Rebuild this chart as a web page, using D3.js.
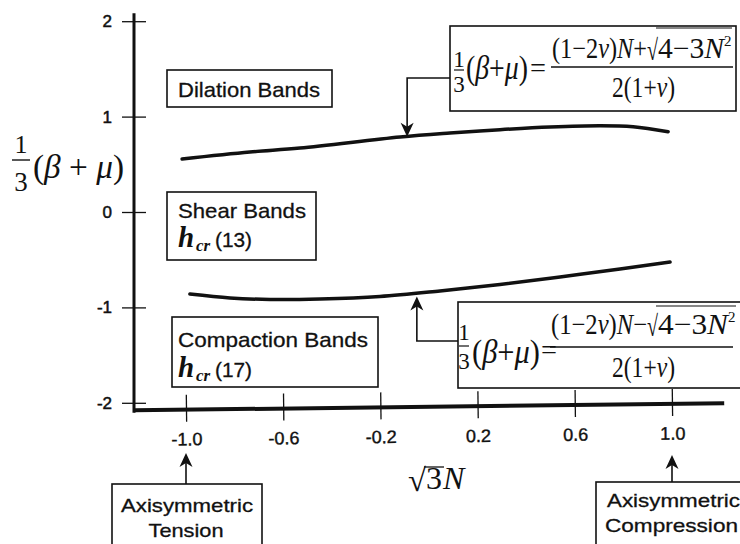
<!DOCTYPE html>
<html><head><meta charset="utf-8">
<script src="https://cdn.jsdelivr.net/npm/d3@7"></script>
<style>body{margin:0;background:#fff} svg{display:block}</style>
</head><body><svg id="c" width="740" height="544"></svg>
<script>
// ---- data ----
const xTicks = [-1.0, -0.6, -0.2, 0.2, 0.6, 1.0];
const xTickLabels = ["-1.0", "-0.6", "-0.2", "0.2", "0.6", "1.0"];
const yTicks = [2, 1, 0, -1, -2];
const yTickLabels = ["2", "1", "0", "-1", "-2"];
const upperX = [-1.016, -0.737, -0.531, -0.119, 0.086, 0.292, 0.498, 0.704, 0.840, 0.984];
const upperY = [0.556, 0.629, 0.670, 0.786, 0.828, 0.863, 0.891, 0.905, 0.894, 0.842];
const lowerX = [-0.984, -0.819, -0.654, -0.449, -0.202, 0.045, 0.292, 0.539, 0.786, 0.992];
const lowerY = [-0.860, -0.901, -0.917, -0.912, -0.886, -0.828, -0.760, -0.681, -0.597, -0.524];
const upperArrowTarget = [-0.09, 0.79];
const lowerArrowTarget = [-0.05, -0.885];
const endArrowX = [-1.0, 1.0];

const SANS = "'Liberation Sans', Arial, sans-serif";
const SERIF = "'Liberation Serif', 'Times New Roman', serif";

const svg = d3.select("#c");
const x = d3.scaleLinear().domain([-1, 1]).range([186, 672]);
const y = d3.scaleLinear().domain([-2, 2]).range([402.8, 21.2]);

// ---- y axis ----
const yAxisX = 134;
const yg = svg.append("g").attr("transform", `translate(${yAxisX},0)`)
  .call(d3.axisLeft(y).tickValues(yTicks).tickFormat((d, i) => yTickLabels[i])
    .tickSizeInner(12).tickSizeOuter(0).tickPadding(10));
yg.select(".domain").remove();
yg.selectAll(".tick line").attr("x1", 12).attr("stroke", "#111").attr("stroke-width", 1.3);
yg.selectAll(".tick text").attr("font-family", SANS).attr("font-size", 17).attr("fill", "#111")
  .attr("stroke", "#111").attr("stroke-width", 0.5);
svg.append("line").attr("x1", yAxisX).attr("x2", yAxisX)
  .attr("y1", y(2) - 8).attr("y2", y(-2) + 10)
  .attr("stroke", "#111").attr("stroke-width", 3);

// ---- x axis (slightly tilted like the scan) ----
const xAxisY = y(-2) + 7.5;
const xg = svg.append("g").attr("transform", `rotate(-0.68 ${yAxisX} ${xAxisY}) translate(0,${xAxisY})`)
  .call(d3.axisBottom(x).tickValues(xTicks).tickFormat((d, i) => xTickLabels[i])
    .tickSizeInner(12).tickSizeOuter(0).tickPadding(11));
xg.select(".domain").remove();
xg.selectAll(".tick line").attr("y1", -15).attr("stroke", "#111").attr("stroke-width", 1.3);
xg.selectAll(".tick text").attr("font-family", SANS).attr("font-size", 18).attr("fill", "#111")
  .attr("stroke", "#111").attr("stroke-width", 0.4);
xg.append("line").attr("x1", yAxisX).attr("x2", x(1.215)).attr("y1", 0).attr("y2", 0)
  .attr("stroke", "#111").attr("stroke-width", 4);

// ---- curves ----
const line = d3.line().x(d => x(d[0])).y(d => y(d[1])).curve(d3.curveCatmullRom);
svg.append("path").datum(upperX.map((v, i) => [v, upperY[i]])).attr("d", line)
  .attr("fill", "none").attr("stroke", "#111").attr("stroke-width", 3.5).attr("stroke-linecap", "round");
svg.append("path").datum(lowerX.map((v, i) => [v, lowerY[i]])).attr("d", line)
  .attr("fill", "none").attr("stroke", "#111").attr("stroke-width", 3.5).attr("stroke-linecap", "round");

// ---- helpers ----
function box(x0, y0, w, h) {
  svg.append("rect").attr("x", x0).attr("y", y0).attr("width", w).attr("height", h)
    .attr("fill", "#fff").attr("stroke", "#111").attr("stroke-width", 1.6);
}
function arrowHead(tx, ty, dir) {
  const s = dir === "up" ? 1 : -1;
  svg.append("path")
    .attr("d", `M${tx},${ty} L${tx - 6.5},${ty + s * 14} L${tx},${ty + s * 10} L${tx + 6.5},${ty + s * 14} Z`)
    .attr("fill", "#111");
}
function label(txt, x0, base, size, len, anchor) {
  const t = svg.append("text").attr("x", x0).attr("y", base).attr("font-family", SANS)
    .attr("font-size", size).attr("fill", "#111").attr("stroke", "#111").attr("stroke-width", 0.3)
    .attr("text-anchor", anchor || "start").text(txt);
  if (len) t.attr("textLength", len).attr("lengthAdjust", "spacingAndGlyphs");
  return t;
}
function hcr(x0, base, num) {
  svg.append("text").attr("x", x0).attr("y", base).attr("fill", "#111")
    .attr("font-family", SERIF).attr("font-weight", "bold").attr("font-style", "italic")
    .attr("font-size", 29).text("h");
  svg.append("text").attr("x", x0 + 18).attr("y", base + 4).attr("fill", "#111")
    .attr("font-family", SERIF).attr("font-weight", "bold").attr("font-style", "italic")
    .attr("font-size", 17).text("cr");
  label("(" + num + ")", x0 + 37, base, 21, 37);
}

// ---- region labels ----
box(167, 70, 165, 37);
label("Dilation Bands", 178, 97, 21, 142);

box(167, 192, 149, 68);
label("Shear Bands", 178, 218, 21, 128);
hcr(178, 247, 13);

box(172, 317, 206, 70);
label("Compaction Bands", 178, 347, 21, 190);
hcr(178, 377, 17);

// ---- formulas ----
function formula(cfg, sign) {
  box(cfg.bx, cfg.by, cfg.bw, cfg.bh);
  const g = svg.append("g").attr("fill", "#111");
  // small 1/3
  g.append("text").attr("x", cfg.fx).attr("y", cfg.oneB).attr("font-family", SERIF).attr("font-size", 23)
    .attr("text-anchor", "middle").text("1");
  g.append("line").attr("x1", cfg.fx - 5).attr("x2", cfg.fx + 5).attr("y1", cfg.barY).attr("y2", cfg.barY)
    .attr("stroke", "#111").attr("stroke-width", 1.2);
  g.append("text").attr("x", cfg.fx).attr("y", cfg.threeB).attr("font-family", SERIF).attr("font-size", 23)
    .attr("text-anchor", "middle").text("3");
  // (β+μ)
  const p = g.append("text").attr("x", cfg.px).attr("y", cfg.parenB).attr("font-family", SERIF).attr("font-size", 34)
    .attr("textLength", cfg.pw).attr("lengthAdjust", "spacingAndGlyphs");
  p.append("tspan").text("(");
  p.append("tspan").attr("font-style", "italic").text("β");
  p.append("tspan").text("+");
  p.append("tspan").attr("font-style", "italic").text("μ");
  p.append("tspan").text(")");
  // =
  g.append("text").attr("x", cfg.ex).attr("y", cfg.eqB).attr("font-family", SERIF).attr("font-size", 28)
    .attr("textLength", cfg.ew).attr("lengthAdjust", "spacingAndGlyphs").text("=");
  // numerator
  const n1 = g.append("text").attr("x", cfg.nx).attr("y", cfg.numB).attr("font-family", SERIF).attr("font-size", 29)
    .attr("textLength", cfg.n1w).attr("lengthAdjust", "spacingAndGlyphs");
  n1.append("tspan").text("(1\u22122");
  n1.append("tspan").attr("font-style", "italic").text("ν");
  n1.append("tspan").text(")");
  n1.append("tspan").attr("font-style", "italic").text("N");
  n1.append("tspan").text(sign);
  g.append("text").attr("x", cfg.sx).attr("y", cfg.numB + 2).attr("font-family", SERIF).attr("font-size", 29)
    .attr("textLength", cfg.sw).attr("lengthAdjust", "spacingAndGlyphs").text("√");
  const n2 = g.append("text").attr("x", cfg.sx + cfg.sw).attr("y", cfg.numB).attr("font-family", SERIF).attr("font-size", 29)
    .attr("textLength", cfg.n2w).attr("lengthAdjust", "spacingAndGlyphs");
  n2.append("tspan").text("4\u22123");
  n2.append("tspan").attr("font-style", "italic").text("N");
  g.append("text").attr("x", cfg.sx + cfg.sw + cfg.n2w).attr("y", cfg.numB - 12).attr("font-family", SERIF)
    .attr("font-size", 15).text("2");
  g.append("line").attr("x1", cfg.sx + cfg.sw - 2).attr("x2", cfg.sx + cfg.sw + cfg.n2w + 8)
    .attr("y1", cfg.ovY).attr("y2", cfg.ovY).attr("stroke", "#111").attr("stroke-width", 1.2);
  // fraction line
  g.append("line").attr("x1", cfg.nx - 1).attr("x2", cfg.nx + cfg.lw).attr("y1", cfg.lineY).attr("y2", cfg.lineY)
    .attr("stroke", "#111").attr("stroke-width", 1.3);
  // denominator
  const d = g.append("text").attr("x", cfg.dx).attr("y", cfg.denB).attr("font-family", SERIF).attr("font-size", 29)
    .attr("textLength", cfg.dw).attr("lengthAdjust", "spacingAndGlyphs");
  d.append("tspan").text("2(1+");
  d.append("tspan").attr("font-style", "italic").text("ν");
  d.append("tspan").text(")");
}

formula({bx: 450, by: 26, bw: 286, bh: 85, fx: 459, oneB: 67, barY: 70, threeB: 92,
  px: 466, pw: 62, parenB: 79, ex: 530, ew: 16, eqB: 77,
  nx: 552, n1w: 95, sx: 647, sw: 11, n2w: 66, numB: 58, ovY: 28, lineY: 67, lw: 181,
  dx: 612, dw: 63, denB: 97}, "+");

formula({bx: 458, by: 302, bw: 285, bh: 86, fx: 464, oneB: 340, barY: 346, threeB: 369,
  px: 472, pw: 68, parenB: 363, ex: 541, ew: 16, eqB: 359,
  nx: 551, n1w: 96, sx: 647, sw: 11, n2w: 70, numB: 334, ovY: 306, lineY: 347, lw: 182,
  dx: 612, dw: 63, denB: 377}, "\u2212");

// formula arrows
const ua = [x(upperArrowTarget[0]), y(upperArrowTarget[1])];
svg.append("path").attr("d", `M450,78 H${ua[0]} V${ua[1] - 8}`).attr("fill", "none")
  .attr("stroke", "#111").attr("stroke-width", 1.6);
arrowHead(ua[0], ua[1], "down");
const la = [x(lowerArrowTarget[0]), y(lowerArrowTarget[1])];
svg.append("path").attr("d", `M458,341 H${la[0]} V${la[1] + 8}`).attr("fill", "none")
  .attr("stroke", "#111").attr("stroke-width", 1.6);
arrowHead(la[0], la[1], "up");

// ---- axis titles ----
const yt = svg.append("g").attr("fill", "#111");
yt.append("text").attr("x", 21).attr("y", 153).attr("font-family", SERIF).attr("font-size", 26)
  .attr("text-anchor", "middle").text("1");
yt.append("line").attr("x1", 12).attr("x2", 30).attr("y1", 160).attr("y2", 160)
  .attr("stroke", "#111").attr("stroke-width", 1.4);
yt.append("text").attr("x", 21).attr("y", 191).attr("font-family", SERIF).attr("font-size", 27)
  .attr("text-anchor", "middle").text("3");
const ytp = yt.append("text").attr("x", 33).attr("y", 178).attr("font-family", SERIF).attr("font-size", 34)
  .attr("textLength", 91).attr("lengthAdjust", "spacingAndGlyphs");
ytp.append("tspan").text("(");
ytp.append("tspan").attr("font-style", "italic").text("β");
ytp.append("tspan").text(" + ");
ytp.append("tspan").attr("font-style", "italic").text("μ");
ytp.append("tspan").text(")");

const xt = svg.append("g").attr("fill", "#111");
xt.append("text").attr("x", 408).attr("y", 491).attr("font-family", SERIF).attr("font-size", 32)
  .attr("textLength", 18).attr("lengthAdjust", "spacingAndGlyphs").text("√");
xt.append("text").attr("x", 426).attr("y", 489).attr("font-family", SERIF).attr("font-size", 32).text("3");
xt.append("text").attr("x", 443).attr("y", 489).attr("font-family", SERIF).attr("font-size", 32)
  .attr("font-style", "italic").text("N");
xt.append("line").attr("x1", 424).attr("x2", 444).attr("y1", 467).attr("y2", 467)
  .attr("stroke", "#111").attr("stroke-width", 1.3);

// ---- axisymmetric boxes ----
box(112, 484, 150, 70);
label("Axisymmetric", 187, 512, 19, 132, "middle");
label("Tension", 186, 537, 19, 75, "middle");
svg.append("line").attr("x1", x(endArrowX[0])).attr("x2", x(endArrowX[0])).attr("y1", 484).attr("y2", 462)
  .attr("stroke", "#111").attr("stroke-width", 1.6);
arrowHead(x(endArrowX[0]), 453, "up");

box(596, 482, 160, 70);
label("Axisymmetric", 607, 507, 19, 133);
label("Compression", 605, 532, 19, 133);
svg.append("line").attr("x1", x(endArrowX[1])).attr("x2", x(endArrowX[1])).attr("y1", 482).attr("y2", 462)
  .attr("stroke", "#111").attr("stroke-width", 1.6);
arrowHead(x(endArrowX[1]), 455, "up");
</script></body></html>
